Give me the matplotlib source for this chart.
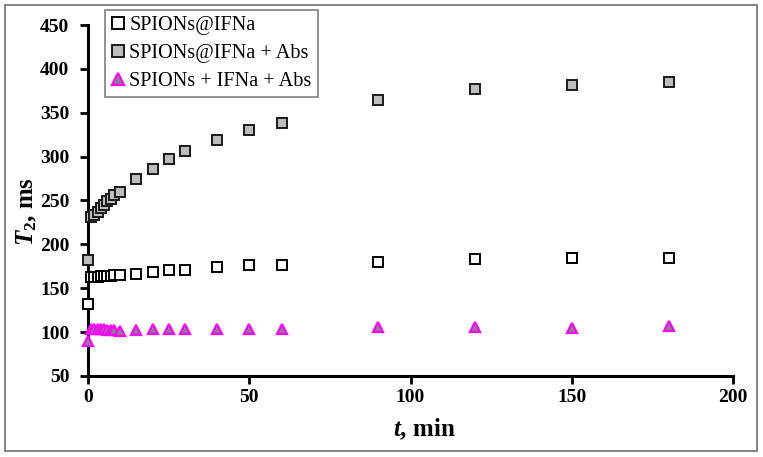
import matplotlib
matplotlib.use("Agg")
import matplotlib.pyplot as plt
from matplotlib.patches import Rectangle

t = [0, 1, 2, 3, 4, 5, 6, 7, 8, 10, 15, 20, 25, 30, 40, 50, 60, 90, 120, 150, 180]
spions_ifna = [132, 163, 163, 163, 164, 164, 164, 164, 165, 165, 166, 169, 171, 171, 174, 176, 177, 180, 183, 185, 185]
spions_ifna_abs = [182, 231, 234, 237, 241, 245, 249, 252, 256, 260, 275, 286, 297, 306, 319, 330, 338, 365, 377, 382, 385]
spions_plus = [90, 103, 103, 103, 103, 103, 102, 102, 102, 101, 102, 103, 103, 103, 104, 104, 104, 106, 106, 105, 107]
labels = ["SPIONs@IFNa", "SPIONs@IFNa + Abs", "SPIONs + IFNa + Abs"]
xticks = [0, 50, 100, 150, 200]
yticks = [50, 100, 150, 200, 250, 300, 350, 400, 450]

plt.rcParams['font.family'] = ['Liberation Serif', 'DejaVu Serif']
plt.rcParams['mathtext.fontset'] = 'custom'
plt.rcParams['mathtext.it'] = 'Liberation Serif:italic:bold'
plt.rcParams['mathtext.rm'] = 'Liberation Serif:bold'
plt.rcParams['mathtext.bf'] = 'Liberation Serif:bold'

W, H = 763, 457
fig = plt.figure(figsize=(W / 100, H / 100), dpi=100)
left, right, top, bottom = 88, 733, 25, 376
ax = fig.add_axes([left / W, 1 - bottom / H, (right - left) / W, (bottom - top) / H])

ms = 7.2
ax.plot(t, spions_ifna, linestyle='none', marker='s', ms=ms, mfc='white', mec='black', mew=1.4,
        label=labels[0], zorder=3, clip_on=False)
ax.plot(t, spions_ifna_abs, linestyle='none', marker='s', ms=ms, mfc='#bdbdbd', mec='#1a1a1a', mew=1.4,
        label=labels[1], zorder=3, clip_on=False)
ax.plot(t, spions_plus, linestyle='none', marker='^', ms=7.8, mfc='#858585', mec='#ff00ff', mew=1.6,
        label=labels[2], zorder=3, clip_on=False)

ax.set_xlim(0, 200)
ax.set_ylim(50, 450)
ax.set_xticks(xticks)
ax.set_yticks(yticks)
for s in ['top', 'right']:
    ax.spines[s].set_visible(False)
for s in ['left', 'bottom']:
    ax.spines[s].set_linewidth(2.2)
ax.tick_params(direction='out', length=5.5, width=2, labelsize=14)
ax.tick_params(axis='y', pad=8)
ax.tick_params(axis='x', pad=4)
for lab in ax.get_xticklabels() + ax.get_yticklabels():
    lab.set_fontweight('bold')

fig.text(424 / W, 1 - 429 / H, r"$t$, min", fontsize=18, fontweight='bold', ha='center', va='center')
fig.text(27 / W, 1 - 212 / H, r"$T_\mathrm{2}$, ms", fontsize=18, fontweight='bold', ha='center', va='center',
         rotation=90)

leg = ax.legend(loc='upper left', bbox_to_anchor=(105 / W, 1 - 10 / H), bbox_transform=fig.transFigure,
                frameon=True, fancybox=False, fontsize=14.6, handlelength=0.7, handletextpad=0.2,
                borderpad=0.3, labelspacing=0.42, borderaxespad=0, markerscale=1.1)
leg.get_frame().set_edgecolor('#808080')
leg.get_frame().set_linewidth(1.2)
leg.get_frame().set_alpha(1)

fig.patches.append(Rectangle((5 / W, 1 - 451 / H), (757 - 5) / W, (451 - 5) / H, transform=fig.transFigure,
                             fill=False, edgecolor='#707070', linewidth=1.2))

fig.savefig("out.png", dpi=100)
